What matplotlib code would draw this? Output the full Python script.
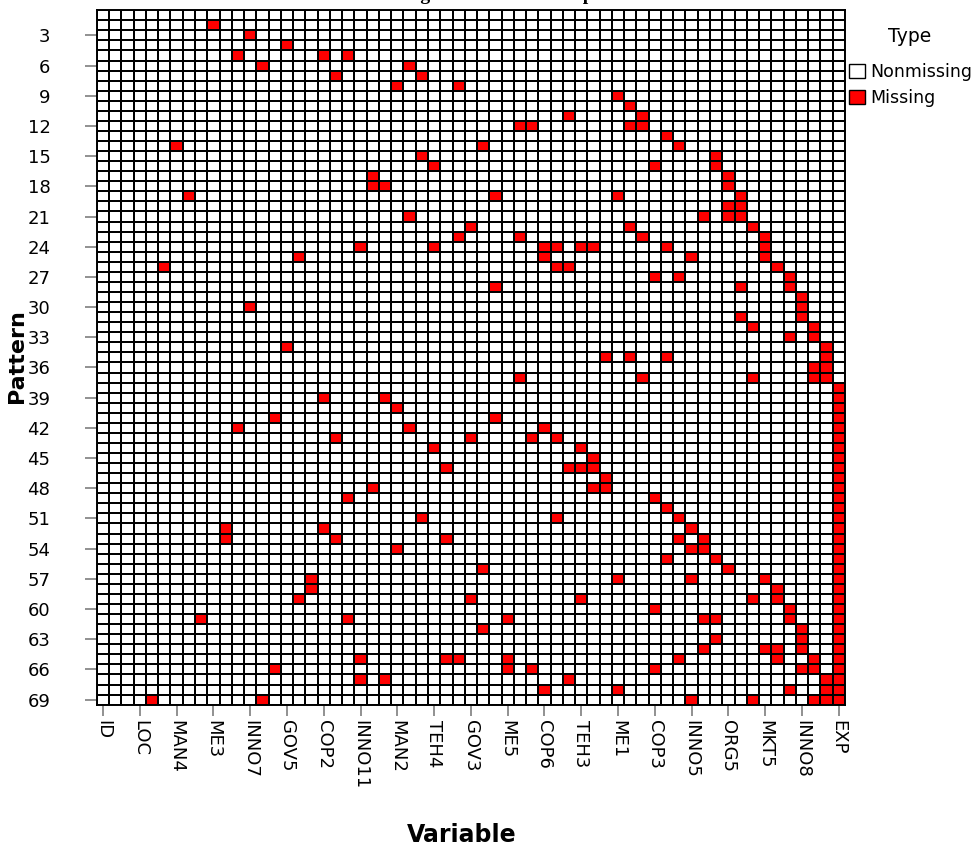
import numpy as np
import matplotlib.pyplot as plt
from matplotlib.colors import ListedColormap
from matplotlib.patches import Patch

plt.rcParams['font.family'] = ['DejaVu Sans']

# variables shown on the axis (every third of 61 variables)
n_vars = 61
tick_labels = ['ID', 'LOC', 'MAN4', 'ME3', 'INNO7', 'GOV5', 'COP2', 'INNO11', 'MAN2',
               'TEH4', 'GOV3', 'ME5', 'COP6', 'TEH3', 'ME1', 'COP3', 'INNO5', 'ORG5',
               'MKT5', 'INNO8', 'EXP']
pattern_ticks = list(range(3, 70, 3))

# missing variable indices for each pattern (1..69)
missing_cols = [
    [], [9], [12], [15], [11, 18, 20], [13, 25], [19, 26], [24, 29], [42], [43],
    [38, 44], [34, 35, 43, 44], [46], [6, 31, 47], [26, 50], [27, 45, 50], [22, 51],
    [22, 23, 51], [7, 32, 42, 52], [51, 52], [25, 49, 51, 52], [30, 43, 53],
    [29, 34, 44, 54], [21, 27, 36, 37, 39, 40, 46, 54], [16, 36, 48, 54],
    [5, 37, 38, 55], [45, 47, 56], [32, 52, 56], [57], [12, 57], [52, 57], [53, 58],
    [56, 58], [15, 59], [41, 43, 46, 59], [58, 59], [34, 44, 53, 58, 59], [60],
    [18, 23, 60], [24, 60], [14, 32, 60], [11, 25, 36, 60], [19, 30, 35, 37, 60],
    [27, 39, 60], [40, 60], [28, 38, 39, 40, 60], [41, 60], [22, 40, 41, 60],
    [20, 45, 60], [46, 60], [26, 37, 47, 60], [10, 18, 48, 60],
    [10, 19, 28, 47, 49, 60], [24, 48, 49, 60], [46, 50, 60], [31, 51, 60],
    [17, 42, 48, 54, 60], [17, 55, 60], [16, 30, 39, 53, 55, 60], [45, 56, 60],
    [8, 20, 33, 49, 50, 56, 60], [31, 57, 60], [50, 57, 60], [49, 54, 55, 57, 60],
    [21, 28, 29, 33, 47, 55, 58, 60], [14, 33, 35, 45, 57, 58, 60],
    [21, 23, 38, 59, 60], [36, 42, 56, 59, 60], [4, 13, 48, 53, 58, 59, 60],
]

n_pat = len(missing_cols)
grid = np.zeros((n_pat, n_vars))
for i, cols in enumerate(missing_cols):
    grid[i, cols] = 1

fig = plt.figure(figsize=(9.79, 8.5), dpi=100)
ax = fig.add_axes([0.099, 0.171, 0.764, 0.817])

x_edges = np.arange(n_vars + 1) - 0.5
y_edges = np.arange(n_pat + 1) + 0.5
ax.pcolormesh(x_edges, y_edges, grid, cmap=ListedColormap(['white', '#ff0000']),
              vmin=0, vmax=1, edgecolors='black', linewidth=1.4)
ax.set_xlim(-0.5, n_vars - 0.5)
ax.set_ylim(n_pat + 0.5, 0.5)

ax.set_xticks(range(0, n_vars, 3))
ax.set_xticklabels(tick_labels, rotation=-90, fontsize=13)
ax.set_yticks(pattern_ticks)
ax.set_yticklabels([str(p) for p in pattern_ticks], fontsize=13)
ax.tick_params(axis='x', length=8, width=1.3, color='#888888', pad=3)
ax.tick_params(axis='y', length=8.5, width=1.3, color='#888888', pad=25)
for s in ax.spines.values():
    s.set_linewidth(1.4)

fig.text(462 / 979, 1 - 835 / 850, 'Variable', ha='center', va='center',
         fontsize=17, fontweight='bold')
fig.text(17 / 979, 1 - 356 / 850, 'Pattern', ha='center', va='center',
         rotation=90, fontsize=16, fontweight='bold')

fig.text(0.49, 0.9955, 'Missing Value Pattern Map', ha='center', va='bottom',
         fontsize=14, fontweight='bold', family='Liberation Serif')

# legend
fig.text(910 / 979, 1 - 37 / 850, 'Type', ha='center', va='center', fontsize=13.5)
handles = [Patch(facecolor='white', edgecolor='black', label='Nonmissing'),
           Patch(facecolor='#ff0000', edgecolor='black', label='Missing')]
fig.legend(handles=handles, loc='upper left', bbox_to_anchor=(849 / 979, 1 - 63 / 850),
           frameon=False, fontsize=12.5, handlelength=0.9, handleheight=0.9,
           handletextpad=0.35, labelspacing=0.45, borderpad=0, borderaxespad=0)

fig.savefig('out.png', dpi=100)
